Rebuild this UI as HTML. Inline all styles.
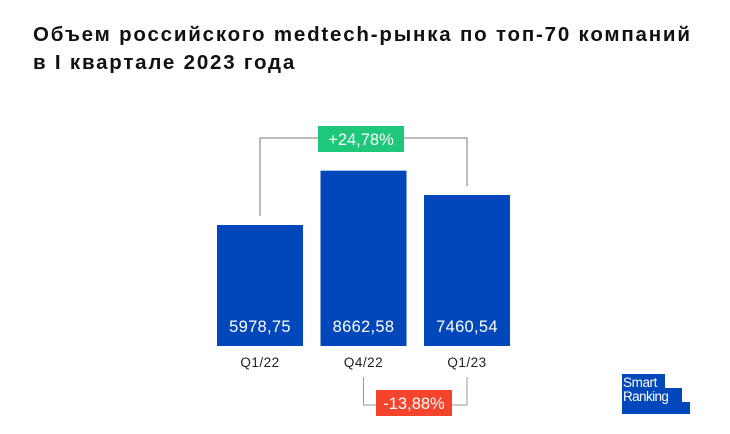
<!DOCTYPE html>
<html><head><meta charset="utf-8"><style>
body{margin:0;background:#fff;width:730px;height:434px;overflow:hidden;font-family:"Liberation Sans",sans-serif}
h1{position:absolute;left:33px;top:21px;margin:0;font-size:20.5px;line-height:28px;font-weight:bold;color:#111;letter-spacing:1.8px;white-space:nowrap}
</style></head><body>
<h1>Объем российского medtech-рынка по топ-70 компаний<br>в I квартале 2023 года</h1>
<svg id="c" width="730" height="434" style="position:absolute;left:0;top:0"></svg>
<script>
const categories=["Q1/22","Q4/22","Q1/23"];
const values=[5978.75,8662.58,7460.54];
const valueLabels=["5978,75","8662,58","7460,54"];
const upChange="+24,78%";
const downChange="-13,88%";
const svg=document.getElementById('c');
const NS="http://www.w3.org/2000/svg";
const base=346, k=121/5978.75;
const y=v=>base-v*k;
const x=i=>217+i*103.5;
const bw=86;
function el(t,a,p){const e=document.createElementNS(NS,t);for(const n in a)e.setAttribute(n,a[n]);(p||svg).appendChild(e);return e;}
categories.forEach((c,i)=>{
 const r=el('rect',{x:x(i),y:y(values[i]),width:bw,height:base-y(values[i]),fill:'#0047bb'});
 
 
 const t=el('text',{x:x(i)+bw/2,y:332,'text-anchor':'middle','font-size':'16.5',fill:'#fff','letter-spacing':'0.3'});
 t.textContent=valueLabels[i];
 
 
 const l=el('text',{x:x(i)+bw/2,y:367,'text-anchor':'middle','font-size':'13.5',fill:'#222','letter-spacing':'0.5'});
 l.textContent=c;
 
 
});
const cx=i=>x(i)+bw/2;
const tb=el('polyline',{points:`${cx(0)},${y(values[0])-9} ${cx(0)},138 ${cx(2)},138 ${cx(2)},${y(values[2])-9}`,fill:'none',stroke:'#777','stroke-width':'1'});

const gb=el('rect',{x:318,y:126,width:86,height:26,fill:'#1fc77a'});

const gt=el('text',{x:361,y:145,'text-anchor':'middle','font-size':'16.5',fill:'#fff'});gt.textContent=upChange;

const bb=el('polyline',{points:`${cx(1)},377 ${cx(1)},405 ${cx(2)},405 ${cx(2)},377`,fill:'none',stroke:'#999','stroke-width':'1'});

const rb=el('rect',{x:376,y:390,width:76,height:26,fill:'#f4452c'});

const rt=el('text',{x:414,y:409,'text-anchor':'middle','font-size':'16.5',fill:'#fff'});rt.textContent=downChange;

const g=el('g',{});
el('rect',{x:622,y:374,width:43,height:15,fill:'#0047bb'},g);
el('rect',{x:622,y:388,width:60,height:15,fill:'#0047bb'},g);
el('rect',{x:622,y:402,width:68,height:12,fill:'#0047bb'},g);
const s1=el('text',{x:623,y:387,'font-size':'13.5',fill:'#fff','letter-spacing':'-0.4'},g);s1.textContent="Smart";
const s2=el('text',{x:623,y:401,'font-size':'13.5',fill:'#fff','letter-spacing':'-0.6'},g);s2.textContent="Ranking";
</script>
</body></html>
